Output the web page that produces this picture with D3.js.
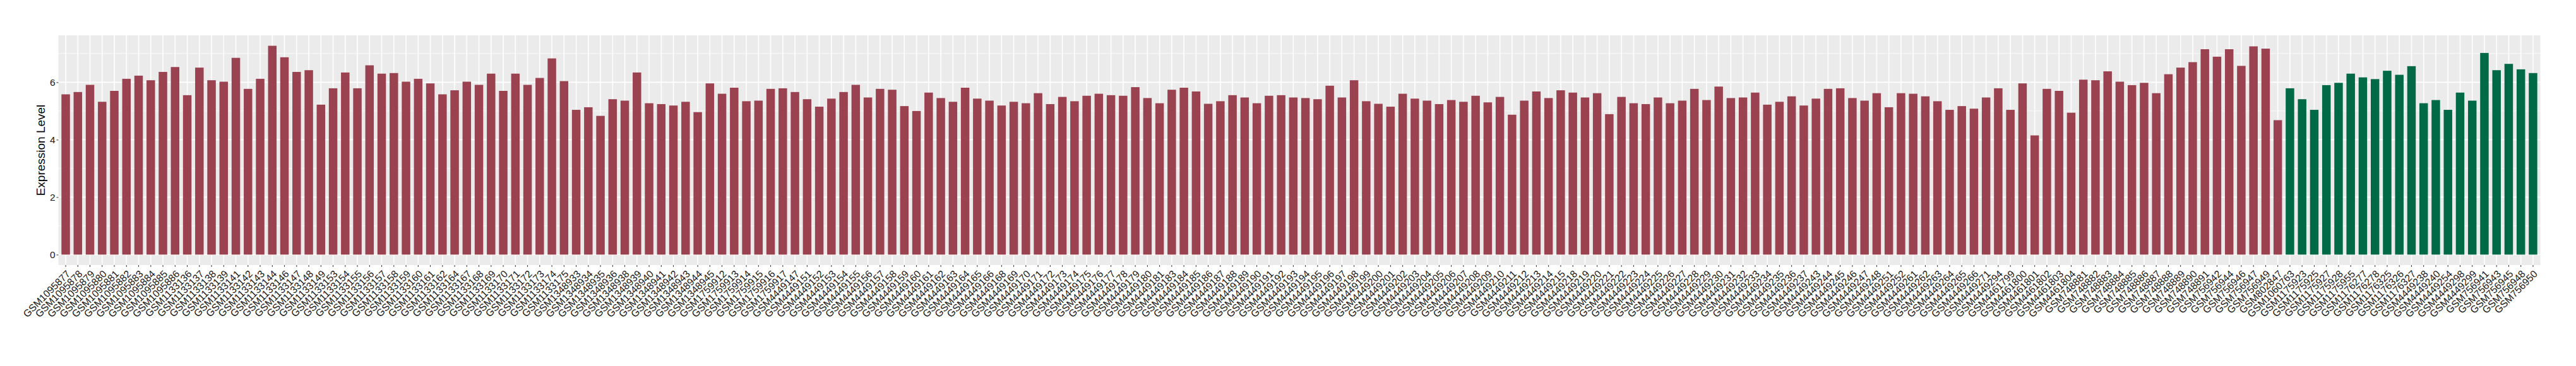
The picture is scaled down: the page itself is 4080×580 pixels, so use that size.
<!DOCTYPE html>
<html>
<head>
<meta charset="utf-8">
<script src="https://cdn.jsdelivr.net/npm/d3@7"></script>
<style>
  html, body { margin: 0; padding: 0; background: #fff; }
  svg text { font-family: "Liberation Sans", Arial, sans-serif; }
</style>
</head>
<body>
<div id="chart"></div>
<script>
// group 1 (dark red bars)
const samplesA = [
  "GSM1095877", "GSM1095878", "GSM1095879", "GSM1095880", "GSM1095881", "GSM1095882", "GSM1095883", "GSM1095884",
  "GSM1095885", "GSM1095886", "GSM1133136", "GSM1133137", "GSM1133138", "GSM1133139", "GSM1133141", "GSM1133142",
  "GSM1133143", "GSM1133144", "GSM1133146", "GSM1133147", "GSM1133148", "GSM1133149", "GSM1133153", "GSM1133154",
  "GSM1133155", "GSM1133156", "GSM1133157", "GSM1133158", "GSM1133159", "GSM1133160", "GSM1133161", "GSM1133162",
  "GSM1133164", "GSM1133167", "GSM1133168", "GSM1133169", "GSM1133170", "GSM1133171", "GSM1133172", "GSM1133173",
  "GSM1133174", "GSM1133175", "GSM1348933", "GSM1348934", "GSM1348935", "GSM1348936", "GSM1348938", "GSM1348939",
  "GSM1348940", "GSM1348941", "GSM1348942", "GSM1348943", "GSM1348944", "GSM1348945", "GSM1759912", "GSM1759913",
  "GSM1759914", "GSM1759915", "GSM1759916", "GSM1759917", "GSM4449147", "GSM4449151", "GSM4449152", "GSM4449153",
  "GSM4449154", "GSM4449155", "GSM4449156", "GSM4449157", "GSM4449158", "GSM4449159", "GSM4449160", "GSM4449161",
  "GSM4449162", "GSM4449163", "GSM4449164", "GSM4449165", "GSM4449166", "GSM4449168", "GSM4449169", "GSM4449170",
  "GSM4449171", "GSM4449172", "GSM4449173", "GSM4449174", "GSM4449175", "GSM4449176", "GSM4449177", "GSM4449178",
  "GSM4449179", "GSM4449180", "GSM4449181", "GSM4449183", "GSM4449184", "GSM4449185", "GSM4449186", "GSM4449187",
  "GSM4449188", "GSM4449189", "GSM4449190", "GSM4449191", "GSM4449192", "GSM4449193", "GSM4449194", "GSM4449195",
  "GSM4449196", "GSM4449197", "GSM4449198", "GSM4449199", "GSM4449200", "GSM4449201", "GSM4449202", "GSM4449203",
  "GSM4449204", "GSM4449205", "GSM4449206", "GSM4449207", "GSM4449208", "GSM4449209", "GSM4449210", "GSM4449211",
  "GSM4449212", "GSM4449213", "GSM4449214", "GSM4449215", "GSM4449218", "GSM4449219", "GSM4449220", "GSM4449221",
  "GSM4449222", "GSM4449223", "GSM4449224", "GSM4449225", "GSM4449226", "GSM4449227", "GSM4449228", "GSM4449229",
  "GSM4449230", "GSM4449231", "GSM4449232", "GSM4449233", "GSM4449234", "GSM4449235", "GSM4449236", "GSM4449237",
  "GSM4449243", "GSM4449244", "GSM4449245", "GSM4449246", "GSM4449247", "GSM4449248", "GSM4449251", "GSM4449252",
  "GSM4449261", "GSM4449262", "GSM4449263", "GSM4449264", "GSM4449265", "GSM4449266", "GSM4449271", "GSM4449294",
  "GSM4461799", "GSM4461800", "GSM4461801", "GSM4461802", "GSM4461803", "GSM4461804", "GSM748881", "GSM748882",
  "GSM748883", "GSM748884", "GSM748885", "GSM748886", "GSM748887", "GSM748888", "GSM748889", "GSM748890",
  "GSM748891", "GSM756942", "GSM756944", "GSM756946", "GSM756947", "GSM756949", "GSM802847"
];
const valuesA = [
  5.58, 5.66, 5.91, 5.32, 5.70, 6.12, 6.23, 6.07,
  6.36, 6.53, 5.55, 6.51, 6.07, 6.02, 6.85, 5.77,
  6.12, 7.27, 6.87, 6.36, 6.42, 5.22, 5.79, 6.34,
  5.79, 6.59, 6.30, 6.32, 6.02, 6.12, 5.96, 5.58,
  5.72, 6.02, 5.91, 6.30, 5.70, 6.30, 5.91, 6.15,
  6.83, 6.04, 5.04, 5.13, 4.83, 5.41, 5.36, 6.34,
  5.27, 5.24, 5.19, 5.32, 4.96, 5.96, 5.60, 5.81,
  5.34, 5.36, 5.77, 5.79, 5.66, 5.41, 5.15, 5.43,
  5.66, 5.91, 5.47, 5.77, 5.74, 5.17, 5.00, 5.64,
  5.45, 5.32, 5.81, 5.43, 5.36, 5.19, 5.32, 5.27,
  5.62, 5.24, 5.49, 5.34, 5.53, 5.60, 5.55, 5.53,
  5.83, 5.45, 5.27, 5.74, 5.81, 5.68, 5.25, 5.34,
  5.55, 5.47, 5.27, 5.53, 5.55, 5.47, 5.45, 5.41,
  5.88, 5.47, 6.07, 5.34, 5.25, 5.15, 5.60, 5.43,
  5.36, 5.24, 5.38, 5.32, 5.53, 5.30, 5.49, 4.87,
  5.36, 5.68, 5.45, 5.72, 5.64, 5.47, 5.62, 4.89,
  5.49, 5.27, 5.24, 5.47, 5.27, 5.36, 5.77, 5.38,
  5.85, 5.45, 5.47, 5.64, 5.22, 5.32, 5.51, 5.19,
  5.43, 5.77, 5.79, 5.45, 5.36, 5.62, 5.13, 5.62,
  5.60, 5.51, 5.34, 5.04, 5.17, 5.08, 5.47, 5.79,
  5.04, 5.96, 4.15, 5.77, 5.70, 4.94, 6.09, 6.07,
  6.38, 6.02, 5.90, 5.98, 5.62, 6.28, 6.51, 6.70,
  7.15, 6.89, 7.15, 6.57, 7.25, 7.17, 4.68
];

// group 2 (dark green bars)
const samplesB = [
  "GSM1060763", "GSM1175923", "GSM1175925", "GSM1175927", "GSM1175928", "GSM1175955", "GSM1176277",
  "GSM1176278", "GSM1176325", "GSM1176326", "GSM1176327", "GSM4449238", "GSM4449240", "GSM4449254",
  "GSM4449298", "GSM4449299", "GSM756941", "GSM756943", "GSM756945", "GSM756948", "GSM756950"
];
const valuesB = [
  5.79, 5.41, 5.04, 5.90, 5.98, 6.30, 6.17,
  6.11, 6.40, 6.26, 6.56, 5.27, 5.38, 5.04,
  5.64, 5.36, 7.02, 6.42, 6.64, 6.45, 6.32
];

const yTicks = [0, 2, 4, 6];
const yMinorTicks = [1, 3, 5, 7];
const yTitle = "Expression Level";

const colorA = "#9A4250";
const colorB = "#006946";

const width = 4080;
const height = 580;
const margin = { top: 56, right: 56.5, bottom: 160, left: 92.5 };

const data = samplesA.map((s, i) => ({ sample: s, value: valuesA[i], color: colorA }))
  .concat(samplesB.map((s, i) => ({ sample: s, value: valuesB[i], color: colorB })));

const svg = d3.select("#chart")
  .append("svg")
  .attr("width", width)
  .attr("height", height);

const plotLeft = margin.left, plotRight = width - margin.right;
const plotTop = margin.top, plotBottom = height - margin.bottom;

// bars take 0.7 of each step, 0.6 step of empty space at both ends (ggplot style)
const x = d3.scaleBand()
  .domain(data.map(d => d.sample))
  .range([plotLeft, plotRight])
  .paddingInner(0.3)
  .paddingOuter(0.25);

const yMax = d3.max(data, d => d.value);
const y = d3.scaleLinear()
  .domain([-0.05 * yMax, yMax * 1.05])
  .range([plotBottom, plotTop]);

const cx = d => x(d) + x.bandwidth() / 2;

// panel
svg.append("rect")
  .attr("x", plotLeft).attr("y", plotTop)
  .attr("width", plotRight - plotLeft).attr("height", plotBottom - plotTop)
  .attr("fill", "#EBEBEB");

// grid
const grid = svg.append("g");
grid.selectAll(".minor")
  .data(yMinorTicks.filter(v => y(v) > plotTop))
  .join("line")
  .attr("x1", plotLeft).attr("x2", plotRight)
  .attr("y1", d => y(d)).attr("y2", d => y(d))
  .attr("stroke", "#fff").attr("stroke-width", 0.8);

grid.selectAll(".major")
  .data(yTicks)
  .join("line")
  .attr("x1", plotLeft).attr("x2", plotRight)
  .attr("y1", d => y(d)).attr("y2", d => y(d))
  .attr("stroke", "#fff").attr("stroke-width", 1.6);

grid.selectAll(".vert")
  .data(x.domain())
  .join("line")
  .attr("x1", d => cx(d)).attr("x2", d => cx(d))
  .attr("y1", plotTop).attr("y2", plotBottom)
  .attr("stroke", "#fff").attr("stroke-width", 1.6);

// bars
svg.append("g")
  .selectAll("rect")
  .data(data)
  .join("rect")
  .attr("x", d => x(d.sample))
  .attr("width", x.bandwidth())
  .attr("y", d => y(d.value))
  .attr("height", d => y(0) - y(d.value))
  .attr("fill", d => d.color);

// y axis
const yAxis = svg.append("g")
  .attr("transform", `translate(${plotLeft},0)`)
  .call(d3.axisLeft(y).tickValues(yTicks).tickSize(3).tickPadding(2).tickFormat(d3.format("d")));
yAxis.select(".domain").remove();
yAxis.selectAll(".tick line").attr("stroke", "#333");
yAxis.selectAll(".tick text")
  .attr("fill", "#1a1a1a")
  .style("font-size", "15.5px");

// x axis, labels turned 45 degrees and right-aligned on their tick
const xAxis = svg.append("g")
  .attr("transform", `translate(0,${plotBottom})`)
  .call(d3.axisBottom(x).tickSize(3).tickPadding(0));
xAxis.select(".domain").remove();
xAxis.selectAll(".tick line").attr("stroke", "#333");
xAxis.selectAll(".tick text")
  .attr("fill", "#1a1a1a")
  .style("font-size", "15.8px")
  .attr("text-anchor", "end")
  .attr("y", 0)
  .attr("dy", "0.72em")
  .attr("transform", "translate(0,7) rotate(-45)");

// y title
svg.append("text")
  .attr("transform", `translate(70.5,${(plotTop + plotBottom) / 2}) rotate(-90)`)
  .attr("text-anchor", "middle")
  .attr("fill", "#000")
  .style("font-size", "19px")
  .text(yTitle);
</script>
</body>
</html>
